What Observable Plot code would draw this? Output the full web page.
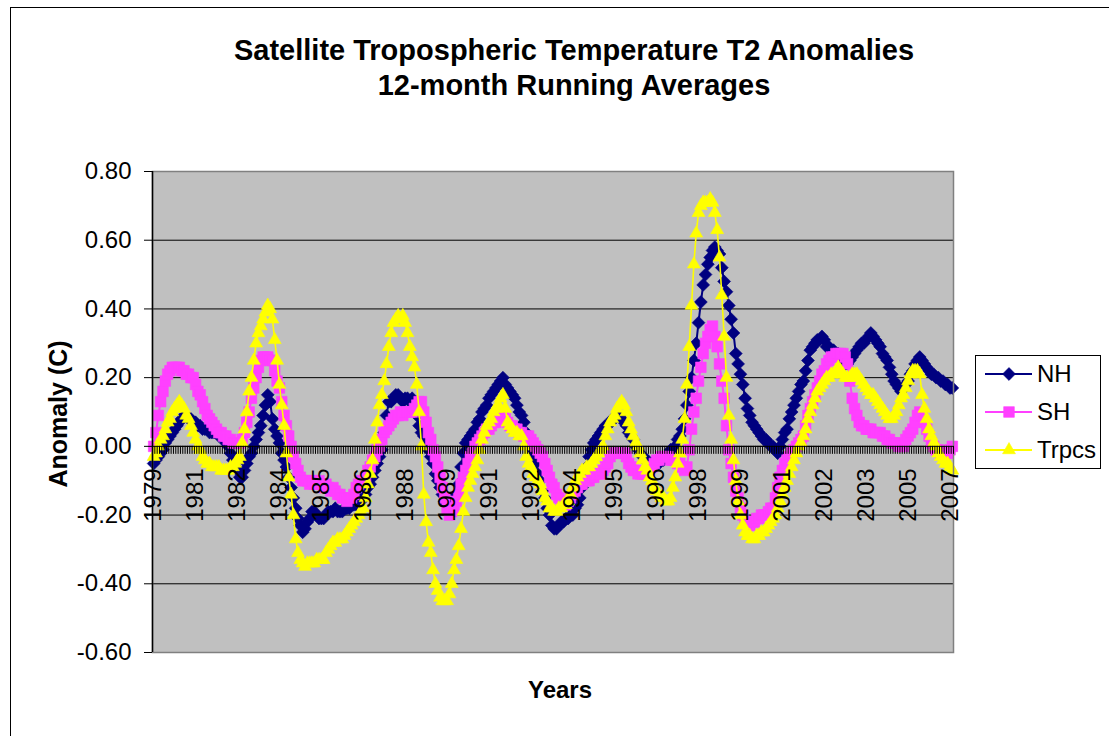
<!DOCTYPE html>
<html>
<head>
<meta charset="utf-8">
<script src="https://cdn.jsdelivr.net/npm/d3@7"></script>
<script src="https://cdn.jsdelivr.net/npm/@observablehq/plot@0.6"></script>
<style>
  body { margin: 0; background: #fff; font-family: "Liberation Sans", Arial, sans-serif; }
  #wrap { position: relative; width: 1109px; height: 736px; overflow: hidden; background: #fff; }
  #chartborder { position: absolute; left: 10px; top: 7px; width: 1200px; height: 800px;
    border-left: 1px solid #000; border-top: 1px solid #000; box-sizing: border-box; }
  #plot { position: absolute; left: 0; top: 0; }
  .title { position: absolute; left: 0; width: 1148px; text-align: center; font-weight: bold;
    font-size: 29px; line-height: 34px; color: #000; white-space: nowrap; }
  #ylab { position: absolute; left: 58px; top: 414px; transform: translate(-50%, -50%) rotate(-90deg);
    font-weight: bold; font-size: 25px; white-space: nowrap; }
  #xlab { position: absolute; left: 560px; top: 690px; transform: translate(-50%, -50%);
    font-weight: bold; font-size: 24px; white-space: nowrap; }
  #legend { position: absolute; left: 975px; top: 355px; width: 126px; height: 114px;
    border: 1px solid #000; box-sizing: border-box; background: #fff; }
</style>
</head>
<body>
<div id="wrap">
  <div id="chartborder"></div>
  <div id="plot"></div>
  <div class="title" style="top:33px">Satellite Tropospheric Temperature T2 Anomalies</div>
  <div class="title" style="top:68px">12-month Running Averages</div>
  <div id="ylab">Anomaly (C)</div>
  <div id="xlab">Years</div>
  <div id="legend"></div>
</div>
<script>
// ---- data (monthly 12-month running averages) ----
const xLabels = ["1979","1981","1982","1984","1985","1986","1988","1989","1991","1992",
                 "1994","1995","1996","1998","1999","2001","2002","2003","2005","2007"];
const labelStep = 18;
const yTicks = [-0.6, -0.4, -0.2, 0, 0.2, 0.4, 0.6, 0.8];
const seriesNames = ["NH", "SH", "Trpcs"];

const nh = [
-0.05,-0.04,-0.03,-0.02,-0.01,0.01,0.02,0.03,0.04,0.05,
0.06,0.07,0.08,0.09,0.09,0.08,0.08,0.07,0.07,0.06,
0.06,0.05,0.05,0.05,0.04,0.04,0.04,0.04,0.03,0.03,
0.03,0.01,0.00,-0.02,-0.04,-0.06,-0.07,-0.09,-0.09,-0.07,
-0.05,-0.03,-0.02,0.00,0.02,0.04,0.06,0.09,0.12,0.15,
0.13,0.08,0.05,0.03,0.01,-0.02,-0.04,-0.06,-0.09,-0.12,
-0.15,-0.18,-0.21,-0.23,-0.25,-0.24,-0.22,-0.21,-0.19,-0.19,
-0.20,-0.21,-0.21,-0.21,-0.20,-0.19,-0.19,-0.19,-0.18,-0.19,
-0.19,-0.19,-0.18,-0.18,-0.18,-0.17,-0.17,-0.17,-0.16,-0.16,
-0.15,-0.14,-0.12,-0.11,-0.09,-0.07,-0.05,-0.03,-0.01,0.04,
0.09,0.13,0.13,0.14,0.15,0.15,0.14,0.13,0.14,0.14,
0.13,0.14,0.13,0.09,0.06,0.04,0.03,0.01,-0.01,-0.03,
-0.05,-0.08,-0.10,-0.12,-0.14,-0.16,-0.17,-0.18,-0.18,-0.16,
-0.14,-0.11,-0.06,-0.02,0.01,0.02,0.03,0.04,0.05,0.07,
0.08,0.10,0.11,0.12,0.14,0.15,0.16,0.17,0.18,0.19,
0.20,0.18,0.17,0.16,0.15,0.14,0.12,0.10,0.09,0.07,
0.04,0.02,-0.01,-0.03,-0.05,-0.08,-0.10,-0.13,-0.15,-0.18,
-0.20,-0.23,-0.24,-0.24,-0.23,-0.22,-0.22,-0.21,-0.21,-0.20,
-0.20,-0.18,-0.17,-0.15,-0.12,-0.09,-0.06,-0.03,-0.01,0.01,
0.02,0.03,0.04,0.05,0.06,0.06,0.07,0.08,0.08,0.09,
0.09,0.08,0.07,0.06,0.04,0.03,0.02,0.00,-0.01,-0.02,
-0.03,-0.04,-0.04,-0.05,-0.05,-0.05,-0.05,-0.05,-0.04,-0.04,
-0.03,-0.02,-0.01,-0.01,0.00,0.02,0.03,0.05,0.08,0.12,
0.16,0.20,0.25,0.30,0.36,0.42,0.47,0.50,0.53,0.55,
0.57,0.58,0.57,0.56,0.52,0.48,0.45,0.41,0.37,0.33,
0.27,0.24,0.21,0.18,0.14,0.11,0.09,0.07,0.06,0.05,
0.04,0.03,0.02,0.02,0.01,0.00,0.00,-0.01,-0.02,0.00,
0.02,0.04,0.05,0.08,0.10,0.12,0.14,0.16,0.18,0.19,
0.22,0.25,0.28,0.29,0.30,0.31,0.31,0.32,0.31,0.29,
0.29,0.28,0.28,0.27,0.27,0.26,0.25,0.24,0.24,0.25,
0.26,0.27,0.28,0.29,0.30,0.30,0.31,0.32,0.33,0.32,
0.31,0.30,0.29,0.27,0.26,0.25,0.23,0.21,0.19,0.18,
0.17,0.16,0.17,0.18,0.19,0.21,0.22,0.24,0.25,0.26,
0.25,0.24,0.23,0.22,0.21,0.21,0.20,0.20,0.19,0.19,
0.18,0.18,0.17,0.17
];

const sh = [
0.00,0.04,0.09,0.13,0.16,0.19,0.21,0.22,0.23,0.23,
0.23,0.23,0.22,0.22,0.21,0.21,0.20,0.20,0.18,0.16,
0.15,0.13,0.11,0.09,0.08,0.07,0.06,0.05,0.04,0.04,
0.03,0.03,0.02,0.02,0.01,0.01,0.01,0.01,0.02,0.04,
0.07,0.10,0.14,0.17,0.20,0.23,0.25,0.26,0.26,0.26,
0.25,0.25,0.22,0.19,0.17,0.13,0.09,0.06,0.03,0.00,
-0.03,-0.05,-0.07,-0.09,-0.10,-0.10,-0.10,-0.11,-0.10,-0.11,
-0.11,-0.10,-0.11,-0.12,-0.11,-0.12,-0.13,-0.12,-0.13,-0.14,
-0.14,-0.15,-0.15,-0.16,-0.15,-0.15,-0.14,-0.12,-0.11,-0.10,
-0.10,-0.09,-0.07,-0.06,-0.04,-0.03,-0.01,0.00,0.02,0.04,
0.05,0.06,0.07,0.08,0.09,0.09,0.10,0.09,0.10,0.10,
0.10,0.10,0.11,0.12,0.13,0.13,0.10,0.07,0.04,0.02,
-0.01,-0.03,-0.06,-0.09,-0.12,-0.15,-0.18,-0.20,-0.19,-0.18,
-0.16,-0.14,-0.11,-0.09,-0.07,-0.05,-0.03,-0.02,0.00,0.01,
0.02,0.03,0.04,0.05,0.05,0.06,0.07,0.07,0.08,0.09,
0.09,0.08,0.07,0.06,0.06,0.05,0.05,0.04,0.04,0.03,
0.03,0.03,0.02,0.01,0.00,-0.01,-0.02,-0.03,-0.05,-0.07,
-0.09,-0.11,-0.12,-0.14,-0.15,-0.16,-0.17,-0.17,-0.16,-0.15,
-0.14,-0.13,-0.12,-0.11,-0.11,-0.10,-0.10,-0.10,-0.09,-0.09,
-0.08,-0.08,-0.08,-0.07,-0.06,-0.05,-0.03,-0.02,-0.02,-0.02,
-0.02,-0.02,-0.02,-0.03,-0.05,-0.06,-0.07,-0.07,-0.08,-0.08,
-0.08,-0.08,-0.08,-0.07,-0.06,-0.05,-0.04,-0.04,-0.03,-0.03,
-0.03,-0.03,-0.04,-0.04,-0.04,-0.05,-0.05,-0.06,-0.07,-0.06,
-0.01,0.05,0.10,0.14,0.19,0.23,0.27,0.30,0.32,0.34,
0.35,0.32,0.29,0.24,0.19,0.14,0.06,-0.01,-0.05,-0.09,
-0.13,-0.15,-0.18,-0.20,-0.22,-0.23,-0.23,-0.22,-0.22,-0.21,
-0.21,-0.20,-0.20,-0.20,-0.19,-0.18,-0.18,-0.15,-0.12,-0.09,
-0.07,-0.05,-0.04,-0.03,-0.02,-0.01,0.00,0.01,0.02,0.03,
0.06,0.09,0.11,0.13,0.15,0.17,0.19,0.21,0.22,0.24,
0.25,0.26,0.26,0.27,0.27,0.27,0.27,0.26,0.24,0.19,
0.14,0.11,0.09,0.07,0.06,0.06,0.05,0.05,0.05,0.04,
0.04,0.04,0.04,0.03,0.03,0.02,0.02,0.01,0.01,0.01,
0.00,0.00,0.00,0.02,0.03,0.04,0.05,0.07,0.09,0.10,
0.09,0.07,0.05,0.03,0.01,0.00,-0.01,-0.01,-0.02,-0.02,
-0.02,-0.02,-0.01,0.00
];

const trpcs = [
-0.03,-0.02,0.00,0.02,0.03,0.05,0.07,0.08,0.10,0.11,
0.12,0.13,0.12,0.11,0.09,0.08,0.06,0.04,0.02,0.00,
-0.01,-0.03,-0.04,-0.05,-0.05,-0.06,-0.06,-0.06,-0.06,-0.07,
-0.07,-0.07,-0.07,-0.06,-0.06,-0.05,-0.04,-0.03,0.01,0.05,
0.10,0.16,0.20,0.25,0.30,0.33,0.35,0.37,0.39,0.41,
0.40,0.37,0.31,0.25,0.18,0.12,0.06,-0.02,-0.09,-0.14,
-0.20,-0.27,-0.31,-0.33,-0.34,-0.35,-0.34,-0.34,-0.34,-0.34,
-0.33,-0.33,-0.33,-0.33,-0.31,-0.30,-0.29,-0.28,-0.28,-0.27,
-0.27,-0.27,-0.26,-0.25,-0.24,-0.23,-0.22,-0.21,-0.20,-0.19,
-0.18,-0.15,-0.11,-0.08,-0.04,0.02,0.07,0.12,0.15,0.19,
0.24,0.29,0.33,0.36,0.37,0.38,0.37,0.38,0.36,0.33,
0.29,0.26,0.23,0.18,0.10,0.00,-0.14,-0.22,-0.28,-0.31,
-0.36,-0.40,-0.42,-0.44,-0.45,-0.45,-0.45,-0.43,-0.40,-0.36,
-0.33,-0.29,-0.24,-0.19,-0.15,-0.12,-0.10,-0.08,-0.06,-0.04,
-0.01,0.02,0.04,0.06,0.07,0.08,0.10,0.11,0.12,0.14,
0.15,0.11,0.07,0.06,0.05,0.04,0.04,0.03,0.03,0.00,
-0.03,-0.05,-0.06,-0.08,-0.09,-0.10,-0.11,-0.13,-0.15,-0.16,
-0.18,-0.18,-0.19,-0.19,-0.18,-0.18,-0.17,-0.17,-0.16,-0.14,
-0.12,-0.10,-0.09,-0.08,-0.07,-0.07,-0.06,-0.06,-0.05,-0.04,
-0.03,-0.02,-0.01,0.00,0.03,0.05,0.07,0.08,0.09,0.11,
0.12,0.13,0.12,0.10,0.07,0.05,0.03,0.01,0.00,-0.02,
-0.04,-0.06,-0.07,-0.09,-0.10,-0.12,-0.13,-0.14,-0.15,-0.15,
-0.16,-0.16,-0.15,-0.12,-0.09,-0.05,-0.02,0.02,0.08,0.18,
0.29,0.41,0.53,0.62,0.68,0.70,0.71,0.71,0.71,0.72,
0.71,0.68,0.63,0.55,0.44,0.32,0.20,0.09,0.02,-0.04,
-0.10,-0.16,-0.20,-0.23,-0.25,-0.26,-0.26,-0.27,-0.27,-0.26,
-0.26,-0.25,-0.25,-0.24,-0.23,-0.22,-0.21,-0.20,-0.18,-0.16,
-0.14,-0.12,-0.10,-0.08,-0.06,-0.04,-0.02,0.00,0.01,0.03,
0.05,0.08,0.10,0.12,0.14,0.16,0.17,0.18,0.19,0.20,
0.20,0.21,0.21,0.22,0.23,0.22,0.21,0.20,0.20,0.20,
0.21,0.21,0.21,0.20,0.19,0.18,0.17,0.16,0.15,0.15,
0.14,0.13,0.12,0.11,0.10,0.09,0.08,0.08,0.09,0.10,
0.12,0.14,0.15,0.17,0.19,0.21,0.22,0.22,0.22,0.21,
0.15,0.11,0.08,0.05,0.03,0.01,0.00,-0.02,-0.03,-0.04,
-0.05,-0.05,-0.06,-0.07
];

// ---- styles ----
const seriesValues = [nh, sh, trpcs];
const seriesColors = ["#000080", "#ff40ff", "#ffff00"];
const seriesSymbols = ["diamond2", "square", "triangle"];
const seriesR = [5.8, 6.0, 4.8];
const seriesLineW = [2, 2, 1.6];

const N = nh.length;
const xDomain = [-0.5, N - 0.5];
const boundaries = d3.range(N + 1).map(i => i - 0.5);
const gridTicks = yTicks.slice(1, -1);

const dataMarks = [];
seriesValues.forEach((vals, k) => {
  dataMarks.push(Plot.line(vals, {x: (d, i) => i, y: d => d, stroke: seriesColors[k], strokeWidth: seriesLineW[k]}));
  dataMarks.push(Plot.dot(vals, {x: (d, i) => i, y: d => d, symbol: seriesSymbols[k], r: seriesR[k],
    fill: seriesColors[k], stroke: seriesColors[k], strokeWidth: 0.6}));
});

const chart = Plot.plot({
  width: 1109,
  height: 736,
  marginLeft: 152,
  marginRight: 156,
  marginTop: 171,
  marginBottom: 84,
  style: {fontFamily: '"Liberation Sans", Arial, sans-serif', fontSize: "24px", background: "transparent", color: "#000", overflow: "visible"},
  x: {type: "linear", domain: xDomain, axis: null},
  y: {type: "linear", domain: [yTicks[0], yTicks[yTicks.length - 1]]},
  marks: [
    Plot.frame({fill: "#c0c0c0", stroke: null}),
    Plot.ruleY(gridTicks, {stroke: "#000", strokeWidth: 1}),
    ...dataMarks,
    Plot.frame({stroke: "#808080", strokeWidth: 1.5, fill: null}),
    Plot.ruleX([xDomain[0]], {stroke: "#000", strokeWidth: 1.5}),
    Plot.ruleY([0], {stroke: "#000", strokeWidth: 1}),
    Plot.ruleX(boundaries, {x: d => d, y1: 0, y2: 0, insetBottom: -8, stroke: "#000", strokeWidth: 1}),
    Plot.axisY(yTicks, {tickSize: 8, tickPadding: 13, tickFormat: d => d.toFixed(2), fontSize: 24, stroke: "#000"}),
    Plot.text(xLabels, {x: (d, k) => k * labelStep, y: 0, text: d => d, rotate: -90, textAnchor: "end",
      dy: 22, fontSize: 24, fill: "#000"})
  ]
});
document.getElementById("plot").appendChild(chart);

// ---- legend ----
const lg = d3.select("#legend").append("svg").attr("width", 124).attr("height", 112)
  .style("position", "absolute").style("left", "0").style("top", "0");
const d3Symbols = [d3.symbolDiamond2, d3.symbolSquare, d3.symbolTriangle];
seriesNames.forEach((name, k) => {
  const cy = 18 + k * 38;
  lg.append("line").attr("x1", 9).attr("x2", 56).attr("y1", cy).attr("y2", cy)
    .attr("stroke", seriesColors[k]).attr("stroke-width", 2);
  lg.append("path").attr("d", d3.symbol(d3Symbols[k], Math.PI * seriesR[k] * seriesR[k])())
    .attr("transform", `translate(33,${cy})`).attr("fill", seriesColors[k])
    .attr("stroke", seriesColors[k]).attr("stroke-width", 0.6);
  lg.append("text").attr("x", 61).attr("y", cy).attr("dy", "0.35em").text(name)
    .attr("font-size", 24).attr("font-family", '"Liberation Sans", Arial, sans-serif').attr("fill", "#000");
});
</script>
</body>
</html>
